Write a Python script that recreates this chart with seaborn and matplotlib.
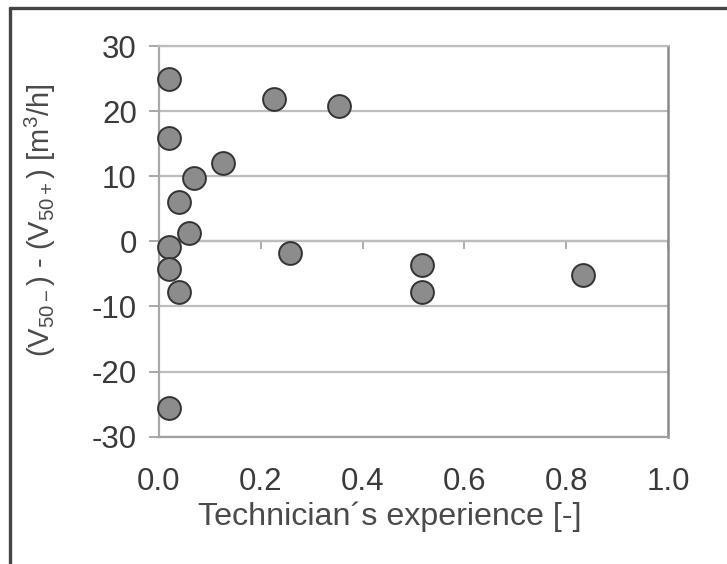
"""Scatter of flow difference vs technician experience."""

import matplotlib
import pandas as pd

matplotlib.use("Agg")
import matplotlib.pyplot as plt
import seaborn as sns
from matplotlib.lines import Line2D


EXPERIENCE = [0.02, 0.02, 0.02, 0.02, 0.02, 0.039, 0.039, 0.058, 0.068,
              0.125, 0.226, 0.257, 0.354, 0.516, 0.516, 0.833]
FLOW_DIFF = [25.0, 15.8, -0.9, -4.2, -25.6, 6.0, -7.8, 1.3, 9.8,
             12.1, 21.9, -1.8, 20.8, -3.6, -7.8, -5.2]
X_TICKS = [0.0, 0.2, 0.4, 0.6, 0.8, 1.0]
Y_TICKS = [-30, -20, -10, 0, 10, 20, 30]


def main():
    sns.set_theme(style="white")
    plt.rcParams["font.family"] = ["Liberation Sans", "DejaVu Sans"]
    plt.rcParams["mathtext.fontset"] = "custom"
    plt.rcParams["mathtext.rm"] = "Liberation Sans"
    plt.rcParams["mathtext.it"] = "Liberation Sans"

    df = pd.DataFrame({"experience": EXPERIENCE, "diff": FLOW_DIFF})

    fig = plt.figure(figsize=(7.27, 5.64), dpi=100)
    ax = fig.add_axes([0.2187, 0.2257, 0.7001, 0.6927])

    ax.set_xlim(0.0, 1.0)
    ax.set_ylim(-30, 30)
    ax.set_yticks(Y_TICKS)
    ax.set_xticks(X_TICKS)
    ax.set_xticklabels([f"{t:.1f}" for t in X_TICKS])
    ax.set_yticklabels([str(t) for t in Y_TICKS])

    ax.yaxis.grid(True, color="#bdbdbd", linewidth=1.6)
    ax.xaxis.grid(False)
    ax.set_axisbelow(True)

    for side in ["top", "right", "bottom"]:
        ax.spines[side].set_visible(True)
    ax.spines["left"].set_color("#a8a8a8")
    ax.spines["left"].set_linewidth(1.6)
    ax.spines["top"].set_color("#bdbdbd")
    ax.spines["top"].set_linewidth(1.6)
    ax.spines["bottom"].set_color("#a0a0a0")
    ax.spines["bottom"].set_linewidth(1.6)
    ax.spines["right"].set_color("#8a8a8a")
    ax.spines["right"].set_linewidth(1.8)

    ax.tick_params(axis="y", left=True, direction="out", length=7,
                   width=1.4, color="#a8a8a8", pad=9, labelsize=22.5,
                   labelcolor="#3a3a3a")
    ax.tick_params(axis="x", bottom=False, pad=16, labelsize=22.5,
                   labelcolor="#3a3a3a")

    # x axis crosses at y = 0, with small tick marks but labels at the bottom
    secax = ax.secondary_xaxis(0.5)
    secax.set_xticks(X_TICKS)
    secax.tick_params(axis="x", direction="in", length=6, width=1.2,
                      color="#a0a0a0", labeltop=False, labelbottom=False)
    secax.spines["top"].set_color("#bdbdbd")
    secax.spines["top"].set_linewidth(1.6)

    sns.scatterplot(data=df, x="experience", y="diff", ax=ax, s=270,
                    color="#8c8c8c", edgecolor="#333333", linewidth=1.4,
                    zorder=3, clip_on=False)

    ax.set_xlabel("Technician\u00b4s experience [-]", fontsize=23.2,
                  color="#4a4a4a")
    ax.xaxis.set_label_coords(0.454, -0.166)
    ax.set_ylabel(r"(V$_{\mathregular{50-}}$) - (V$_{\mathregular{50+}}$) "
                  r"[m$^{\mathregular{3}}$/h]",
                  fontsize=21, color="#4a4a4a")
    ax.yaxis.set_label_coords(-0.198, 0.555)

    # outer frame of the original figure (only top and left edges show)
    fig.add_artist(Line2D([0.0138, 1.0], [0.986, 0.986],
                          transform=fig.transFigure, color="#444444",
                          linewidth=2.4))
    fig.add_artist(Line2D([0.0138, 0.0138], [0.0, 0.986],
                          transform=fig.transFigure, color="#444444",
                          linewidth=2.4))

    fig.savefig("out.png", dpi=100, facecolor="white")
    plt.close(fig)


if __name__ == "__main__":
    main()
